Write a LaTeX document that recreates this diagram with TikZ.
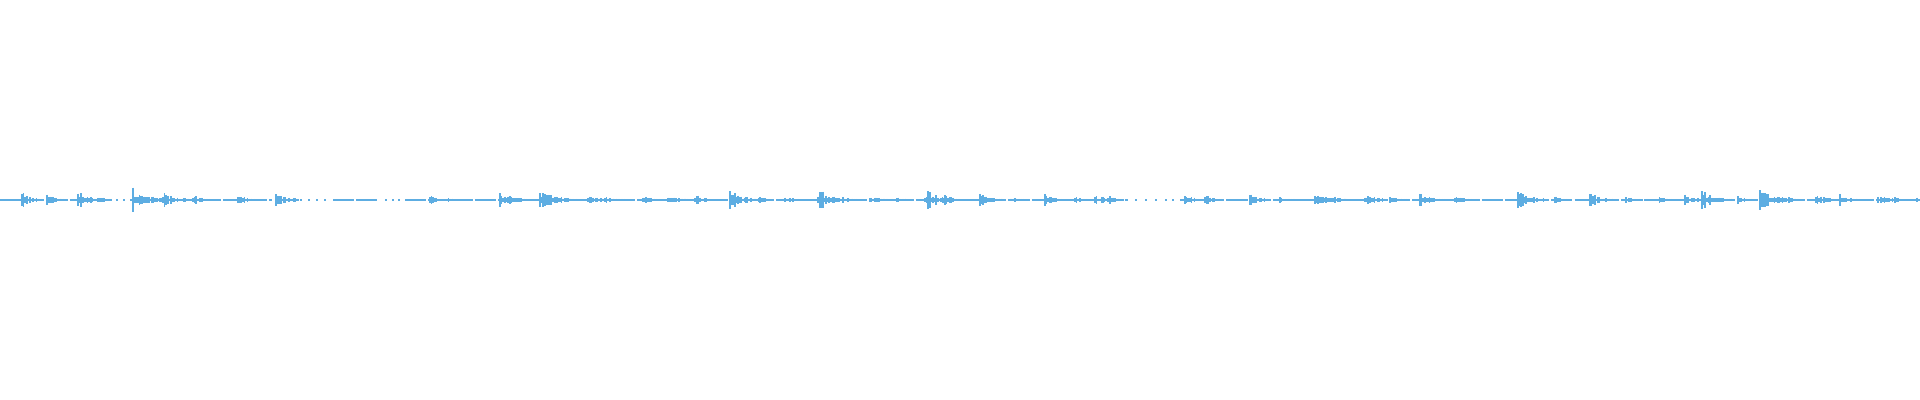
\documentclass[tikz,border=0pt]{standalone}
\usetikzlibrary{calc}
\definecolor{wave}{HTML}{5DADE2}
\tikzset{wavestroke/.style={draw=wave, line width=0.5pt}}
% one burst: position, peak height (px), length (px)
\newcommand{\burst}[3]{%
    \foreach \k in {0,...,#3}{
        \pgfmathsetmacro{\amp}{#2*exp(-\k/(#3/2.5))*(0.15+0.85*rnd)+0.8}
        \draw[wavestroke] (#1+\k*1.6,200-\amp) -- (#1+\k*1.6,200+\amp);
    }}

\begin{document}
\begin{tikzpicture}[x=0.01cm, y=-0.01cm]
    \pgfmathsetseed{11}
    \useasboundingbox (0,0) rectangle (1920,400);
    % baseline, in pieces
    \foreach \a/\b in {0/110, 130/272, 333/378, 405/1128, 1180/1920}{
        \draw[wavestroke, line width=0.3pt, dash pattern=on 6pt off 0.6pt] (\a,200) -- (\b,200);
    }
    \foreach \a in {116,123,285,292,300,308,316,324,385,392,398,1135,1145,1155,1165,1172}{
        \draw[wavestroke] (\a,200) -- (\a+2,200);
    }
    % bursts
    \foreach \x/\h/\l in {22/8/12, 47/6/10, 78/9/14, 98/6/8, 133/13/14, 152/5/10, 163/8/16,
        193/7/10, 238/6/10, 276/7/14, 430/5/6, 447/2/6, 500/7/18, 510/4/10,
        540/10/20, 560/3/10, 588/4/16, 605/3/14, 643/5/10, 668/4/14, 695/6/10, 730/9/20,
        760/3/8, 785/3/10, 818/16/14, 843/3/10, 870/4/14, 897/3/8, 925/11/18, 945/5/10,
        980/6/14, 1010/3/10, 1045/6/10, 1075/3/8, 1095/5/14, 1110/3/8, 1185/6/14, 1205/5/10,
        1250/7/12, 1280/3/10, 1315/6/20, 1335/3/8, 1365/6/14, 1390/3/10,
        1420/6/16, 1455/4/10, 1518/10/16, 1555/4/8, 1590/7/14, 1626/3/10, 1658/3/10,
        1685/7/12, 1702/9/18, 1738/4/8, 1760/9/24, 1786/4/8, 1816/5/14, 1840/6/12,
        1878/5/14, 1895/2/6, 1917/3/4}{
        \burst{\x}{\h}{\l}
    }
\end{tikzpicture}
\end{document}
